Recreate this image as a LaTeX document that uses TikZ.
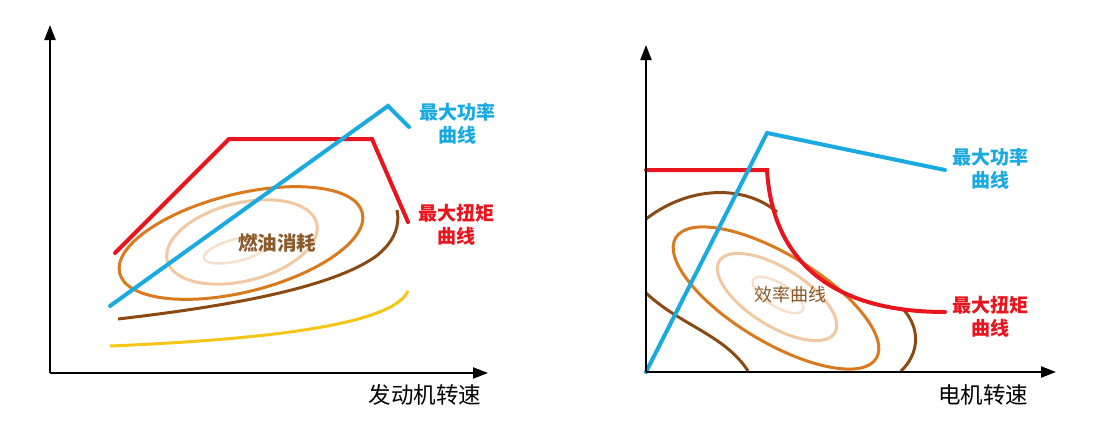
\documentclass[tikz,border=0pt]{standalone}
\usepackage{fontspec}
\newfontfamily\cjk{Noto Sans CJK SC}
\usetikzlibrary{arrows.meta}
\definecolor{cblue}{HTML}{1AAAE0}
\definecolor{cred}{HTML}{E8141E}
\definecolor{corange}{HTML}{D97A1E}
\definecolor{cpeach}{HTML}{F2C8A2}
\definecolor{clight}{HTML}{F6DFCB}
\definecolor{cbrown}{HTML}{8B4A14}
\definecolor{cyellow}{HTML}{F5C518}
\definecolor{ctext}{HTML}{8B5A2B}
\tikzset{
  axis/.style={line width=2.2pt,-{Triangle[length=15pt,width=11pt]}},
  pcurve/.style={line width=4pt,line cap=round,line join=miter,cblue},
  tcurve/.style={line width=4pt,line cap=round,line join=miter,cred},
  ell/.style={line width=3pt},
  lab/.style={font=\cjk\bfseries\fontsize{19}{23}\selectfont,align=center},
  axlab/.style={font=\cjk\fontsize{22.5}{24}\selectfont,black},
}
\begin{document}
\begin{tikzpicture}[x=1pt,y=-1pt]
\useasboundingbox (0,0) rectangle (1096,437);
% ---------- left panel ----------
\coordinate (lo) at (50,373);
\coordinate (ly) at (50,25);
\coordinate (lx) at (488,373);
% ellipses
\draw[ell,clight,line width=2.5pt] (237,250) ellipse[x radius=34,y radius=11,rotate=14];
\draw[ell,cpeach] (242,242) ellipse[x radius=77,y radius=39,rotate=14];
\draw[ell,corange] (241,243) ellipse[x radius=125,y radius=49,rotate=14];
\draw[ell,cbrown] (118,319) .. controls (230,306) and (330,288) .. (375,257) .. controls (395,242) and (400,225) .. (397,210);
\draw[ell,cyellow] (110,346) .. controls (250,340) and (392,327) .. (408,291);
\draw[tcurve] (115,253) -- (229,139) -- (372,139) -- (408,222);
\draw[pcurve] (110,306) -- (388,106) -- (409,127);
\draw[axis] (lo) -- (ly);
\draw[axis] (lo) -- (lx);
\node[lab,text=ctext,font=\cjk\bfseries\fontsize{19.5}{22}\selectfont] (lfuel) at (277,243) {燃油消耗};
\node[lab,text=cblue] (lpow) at (457,124) {最大功率\\曲线};
\node[lab,text=cred] (ltor) at (456,225) {最大扭矩\\曲线};
\node[axlab] (lxl) at (425,395) {发动机转速};
% ---------- right panel ----------
\coordinate (ro) at (646,372);
\coordinate (ry) at (646,45);
\coordinate (rx) at (1056,372);
\draw[ell,clight,line width=2.5pt] (778,295) ellipse[x radius=29,y radius=11.5,rotate=-32];
\draw[ell,cpeach] (777,297) ellipse[x radius=68,y radius=29,rotate=-32];
\draw[ell,corange] (776,298) ellipse[x radius=117,y radius=44,rotate=-31];
\draw[ell,cbrown] (646,219) .. controls (690,185) and (745,185) .. (777,212);
\draw[ell,cbrown] (646,293) .. controls (680,325) and (725,335) .. (748,371);
\draw[ell,cbrown] (903,309) .. controls (922,330) and (918,355) .. (901,371);
\draw[tcurve] (646,170) -- (767,170) .. controls (772,255) and (825,312) .. (945,312);
\draw[pcurve] (646,372) -- (767,133) -- (945,170);
\draw[axis] (ro) -- (ry);
\draw[axis] (ro) -- (rx);
\node[lab,text=ctext,font=\cjk\fontsize{18}{22}\selectfont] (reff) at (790,295) {效率曲线};
\node[lab,text=cblue] (rpow) at (990,169) {最大功率\\曲线};
\node[lab,text=cred] (rtor) at (990,317) {最大扭矩\\曲线};
\node[axlab] (rxl) at (983,395) {电机转速};
\end{tikzpicture}
\end{document}
